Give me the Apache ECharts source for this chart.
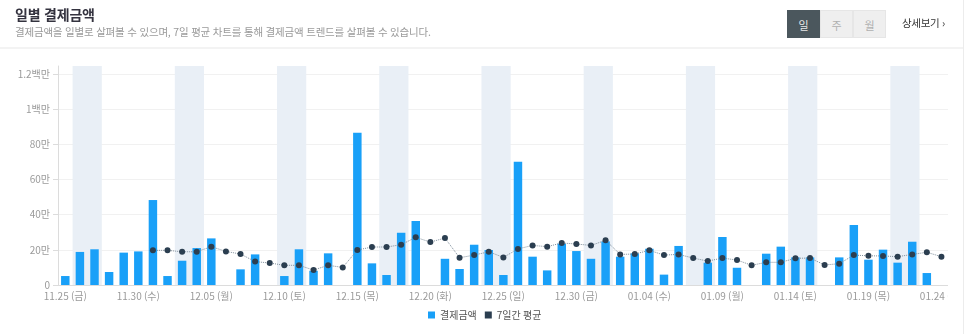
<!DOCTYPE html>
<html lang="ko">
<head>
<meta charset="utf-8">
<title>일별 결제금액</title>
<script src="https://cdn.jsdelivr.net/npm/echarts@6/dist/echarts.min.js"></script>
<style>
  html, body { margin: 0; padding: 0; background: #fff; }
  body { width: 966px; height: 334px; position: relative; overflow: hidden;
         font-family: "Noto Sans CJK KR", "Noto Sans", sans-serif; }
  .panel-edge { position: absolute; left: 963px; top: 0; width: 1px; height: 334px; background: #ececec; }
  .head-rule { position: absolute; left: 0; top: 47px; width: 963px; height: 2px; background: #f3f3f3; }
  .title { position: absolute; left: 15px; top: 4px; font-size: 14px; font-weight: 700; color: #34333f; letter-spacing: -0.2px; }
  .desc { position: absolute; left: 15px; top: 24px; font-size: 10.5px; color: #9a9a9a; letter-spacing: -0.2px; white-space: nowrap; }
  .tabs { position: absolute; left: 787px; top: 10px; display: flex; }
  .tabs span { width: 33px; height: 28px; line-height: 28px; text-align: center; font-size: 11px;
               background: #efefef; color: #b0b0b0; box-sizing: border-box; border: 1px solid #e6e6e6; }
  .tabs span.on { background: #4b575d; color: #e8e8e8; border-color: #4b575d; }
  .more { position: absolute; left: 902px; top: 15px; font-size: 10.5px; color: #333; letter-spacing: -0.3px; white-space: nowrap; }
  .chart-clip { position: absolute; left: 0; top: 0; width: 948px; height: 334px; overflow: hidden; }
  #chart { width: 966px; height: 334px; }
</style>
</head>
<body>
<div class="chart-clip"><div id="chart"></div></div>
<div class="panel-edge"></div>
<div class="head-rule"></div>
<div class="title">일별 결제금액</div>
<div class="desc">결제금액을 일별로 살펴볼 수 있으며, 7일 평균 차트를 통해 결제금액 트렌드를 살펴볼 수 있습니다.</div>
<div class="tabs"><span class="on">일</span><span>주</span><span>월</span></div>
<div class="more">상세보기 &#8250;</div>
<script>
// Daily categories, 2022-11-25 .. 2023-01-24
const categories = [
  '11.25 (금)', '11.26 (토)', '11.27 (일)', '11.28 (월)', '11.29 (화)', '11.30 (수)',
  '12.01 (목)', '12.02 (금)', '12.03 (토)', '12.04 (일)', '12.05 (월)', '12.06 (화)',
  '12.07 (수)', '12.08 (목)', '12.09 (금)', '12.10 (토)', '12.11 (일)', '12.12 (월)',
  '12.13 (화)', '12.14 (수)', '12.15 (목)', '12.16 (금)', '12.17 (토)', '12.18 (일)',
  '12.19 (월)', '12.20 (화)', '12.21 (수)', '12.22 (목)', '12.23 (금)', '12.24 (토)',
  '12.25 (일)', '12.26 (월)', '12.27 (화)', '12.28 (수)', '12.29 (목)', '12.30 (금)',
  '12.31 (토)', '01.01 (일)', '01.02 (월)', '01.03 (화)', '01.04 (수)', '01.05 (목)',
  '01.06 (금)', '01.07 (토)', '01.08 (일)', '01.09 (월)', '01.10 (화)', '01.11 (수)',
  '01.12 (목)', '01.13 (금)', '01.14 (토)', '01.15 (일)', '01.16 (월)', '01.17 (화)',
  '01.18 (수)', '01.19 (목)', '01.20 (금)', '01.21 (토)', '01.22 (일)', '01.23 (월)',
  '01.24 (화)'
];

// Daily payment amount (KRW)
const dailyAmount = [
  51000, 188000, 203000, 74000, 184000, 191000,
  483000, 51000, 138000, 210000, 265000, 0,
  89000, 174000, 0, 51000, 203000, 81000,
  180000, 0, 865000, 123000, 57000, 297000,
  364000, 0, 149000, 91000, 229000, 199000,
  57000, 700000, 161000, 83000, 235000, 193000,
  149000, 248000, 161000, 180000, 206000, 59000,
  222000, 0, 127000, 273000, 98000, 0,
  178000, 218000, 157000, 157000, 0, 157000,
  341000, 144000, 201000, 127000, 246000, 68000,
  0
];

// 7-day average (KRW), available from the 7th day on
const weeklyAverage = [
  null, null, null, null, null, null,
  197000, 197000, 189000, 189000, 218000, 191000,
  176000, 133000, 125000, 112000, 112000, 85000,
  112000, 100000, 199000, 216000, 216000, 229000,
  271000, 244000, 267000, 155000, 170000, 189000,
  157000, 205000, 225000, 218000, 239000, 233000,
  225000, 254000, 174000, 176000, 197000, 170000,
  174000, 153000, 136000, 153000, 142000, 112000,
  129000, 129000, 152000, 153000, 114000, 121000,
  170000, 166000, 165000, 161000, 174000, 186000,
  161000
];

// Saturdays; each shaded band covers Saturday and Sunday
const weekendStarts = [
  '11.26 (토)', '12.03 (토)', '12.10 (토)', '12.17 (토)', '12.24 (토)',
  '12.31 (토)', '01.07 (토)', '01.14 (토)', '01.21 (토)'
];

const seriesNames = ['결제금액', '7일간 평균'];

function formatWon(v) {
  if (v === 0) return '0';
  if (v >= 1000000) return (v / 1000000) + '백만';
  return (v / 10000) + '만';
}

// Weekend shading: one rect per Saturday spanning the Saturday and Sunday bands
function renderWeekend(params, api) {
  const center = api.coord([api.value(0), 0]);
  const band = api.size([1, 0])[0];
  const cs = params.coordSys;
  return {
    type: 'rect',
    shape: { x: center[0] - band / 2, y: cs.y, width: band * 2, height: cs.height },
    style: { fill: '#e9eff6' },
    silent: true
  };
}

const squareIcon = 'path://M0,0L10,0L10,10L0,10Z';

const chart = echarts.init(document.getElementById('chart'), null, { renderer: 'canvas' });
const labelFont = '"Noto Sans CJK KR", "Noto Sans", sans-serif';

chart.setOption({
  animation: false,
  backgroundColor: 'transparent',
  textStyle: { fontFamily: labelFont },
  grid: { left: 58, right: 15, top: 66, bottom: 49 },
  legend: {
    left: 423, top: 305,
    itemWidth: 7, itemHeight: 7, itemGap: 8,
    icon: squareIcon,
    textStyle: { fontSize: 10, color: '#555', fontFamily: labelFont },
    data: [
      { name: seriesNames[0], icon: squareIcon },
      { name: seriesNames[1], icon: squareIcon, itemStyle: { color: '#2b3e50' } }
    ]
  },
  xAxis: {
    type: 'category',
    data: categories,
    boundaryGap: true,
    axisLine: { lineStyle: { color: '#dcdcdc' } },
    axisTick: { alignWithLabel: true, interval: 0, length: 5, lineStyle: { color: '#dcdcdc' } },
    axisLabel: { interval: 4, margin: 6, color: '#9a9a9a', fontSize: 10, fontFamily: labelFont },
    splitLine: { show: false }
  },
  yAxis: {
    type: 'value',
    min: 0,
    max: 1245000,
    interval: 200000,
    axisLine: { show: true, lineStyle: { color: '#dcdcdc' } },
    axisTick: { show: true, length: 5, lineStyle: { color: '#dcdcdc' } },
    axisLabel: { margin: 8, color: '#9a9a9a', fontSize: 10, fontFamily: labelFont,
                 showMaxLabel: false, formatter: formatWon },
    splitLine: { show: true, showMaxLine: false, lineStyle: { color: '#f1f1f1' } }
  },
  series: [
    {
      name: 'weekend',
      type: 'custom',
      renderItem: renderWeekend,
      data: weekendStarts.map(function (d) { return [d]; }),
      encode: { x: 0 },
      silent: true,
      tooltip: { show: false },
      z: 0
    },
    {
      name: seriesNames[0],
      type: 'bar',
      data: dailyAmount,
      barCategoryGap: '42%',
      itemStyle: { color: '#19a0f8' },
      z: 2
    },
    {
      name: seriesNames[1],
      type: 'line',
      data: weeklyAverage,
      symbol: 'circle',
      symbolSize: 6,
      showSymbol: true,
      connectNulls: false,
      itemStyle: { color: '#2b3e50' },
      lineStyle: { color: '#7f8e9b', width: 1, type: 'dotted' },
      z: 3
    }
  ]
});
</script>
</body>
</html>
